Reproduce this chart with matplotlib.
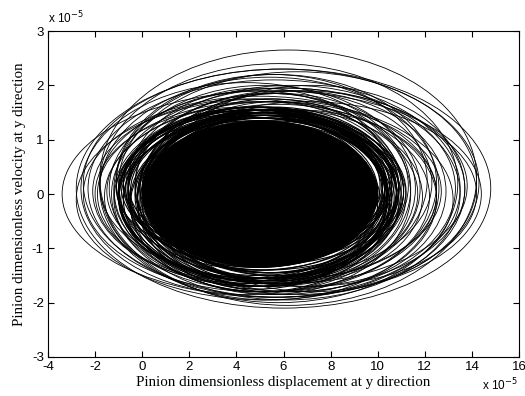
import matplotlib
matplotlib.use("Agg")
import matplotlib.pyplot as plt
from matplotlib.patches import Ellipse

plt.rcParams['font.family'] = ['Liberation Serif', 'DejaVu Serif']

# Orbit loops (units of 1e-5): centre x, centre y, semi-axis x, semi-axis y
outer_cx = [5.5, 6.0, 6.2, 5.8, 5.6, 5.2, 5.9, 6.1, 5.4, 5.0, 6.3, 5.7, 5.3, 6.0, 5.5, 4.9, 6.4, 5.2, 5.8, 5.6,
            4.8, 6.0, 5.4, 5.1, 5.9, 4.7, 5.5, 6.2, 5.0, 5.3, 4.6, 5.7, 6.5, 4.5, 6.8, 7.0, 4.3, 7.2, 4.4, 6.6]
outer_cy = [0.0, 0.1, 0.3, 0.2, 0.1, -0.1, 0.2, 0.0, 0.1, 0.0, 0.1, 0.2, -0.05, 0.15, 0.25, 0.0, 0.05, 0.1, -0.1, 0.05,
            0.1, 0.2, 0.0, -0.05, 0.1, 0.0, 0.15, -0.05, 0.2, 0.0, -0.1, 0.05, 0.0, 0.05, 0.1, 0.0, 0.0, 0.1, 0.1, 0.2]
outer_a = [8.9, 8.8, 8.0, 7.6, 7.9, 8.0, 8.4, 7.4, 7.2, 7.5, 7.0, 6.8, 6.9, 7.8, 6.6, 6.8, 6.5, 6.4, 6.7, 7.1,
           6.2, 6.3, 6.0, 6.1, 5.9, 5.9, 5.8, 5.7, 5.6, 5.5, 5.8, 5.4, 6.0, 6.6, 6.9, 7.2, 6.3, 6.5, 7.0, 7.6]
outer_b = [1.9, 2.2, 2.35, 2.2, 2.0, 1.85, 2.1, 1.95, 2.05, 1.8, 1.9, 2.0, 1.75, 1.8, 1.95, 1.7, 1.85, 1.9, 1.75, 1.65,
           1.8, 1.7, 1.85, 1.65, 1.75, 1.6, 1.7, 1.6, 1.75, 1.55, 1.6, 1.65, 1.55, 1.7, 1.8, 1.7, 1.6, 1.9, 1.95, 2.05]

core_cx = [4.6, 4.8, 5.0, 5.2, 5.4, 5.6, 4.7, 4.9, 5.1, 5.3, 5.5, 4.8, 5.0, 5.2, 5.4, 4.6, 5.6, 5.0, 5.3, 4.9,
           5.1, 5.5, 4.7, 5.2, 5.4, 4.9, 5.3, 5.0, 5.6, 4.8, 5.1, 5.4, 4.7, 5.2, 5.0, 5.5, 4.9, 5.3, 5.1, 4.8]
core_cy = [0.0, 0.1, -0.1, 0.15, 0.05, -0.05, 0.2, -0.15, 0.1, 0.0, 0.15, -0.1, 0.05, -0.05, 0.2, 0.1, 0.0, -0.2, 0.1, 0.05,
           -0.1, 0.05, 0.15, -0.15, 0.0, 0.1, -0.05, 0.2, 0.05, -0.1, 0.15, -0.15, 0.0, 0.1, -0.05, 0.1, 0.0, 0.05, -0.1, 0.15]
core_a = [5.6, 5.4, 5.5, 5.3, 5.7, 5.2, 5.5, 5.1, 5.8, 5.0, 5.4, 5.6, 5.0, 5.5, 5.3, 5.7, 5.2, 5.5, 5.1, 5.4,
          5.0, 5.3, 5.6, 5.2, 5.4, 5.9, 5.1, 5.6, 5.3, 5.8, 5.0, 5.5, 5.7, 5.2, 6.0, 5.4, 5.5, 5.9, 5.3, 5.6]
core_b = [1.55, 1.45, 1.5, 1.4, 1.35, 1.55, 1.35, 1.6, 1.3, 1.45, 1.4, 1.55, 1.35, 1.5, 1.3, 1.3, 1.45, 1.6, 1.4, 1.4,
          1.3, 1.5, 1.35, 1.55, 1.45, 1.5, 1.6, 1.4, 1.55, 1.45, 1.35, 1.5, 1.6, 1.4, 1.55, 1.65, 1.5, 1.45, 1.6, 1.4]

fill_cx, fill_cy, fill_a, fill_b = 5.0, 0.0, 5.0, 1.35

x_ticks = [-4, -2, 0, 2, 4, 6, 8, 10, 12, 14, 16]
y_ticks = [-3, -2, -1, 0, 1, 2, 3]

fig = plt.figure(figsize=(5.25, 3.96), dpi=100)
ax = fig.add_axes([0.0914, 0.0985, 0.8972, 0.8232])

ax.add_patch(Ellipse((fill_cx, fill_cy), 2 * fill_a, 2 * fill_b, facecolor='black', edgecolor='black', lw=0.6))
for cx, cy, a, b in zip(core_cx, core_cy, core_a, core_b):
    ax.add_patch(Ellipse((cx, cy), 2 * a, 2 * b, fill=False, edgecolor='black', lw=0.8))
for cx, cy, a, b in zip(outer_cx, outer_cy, outer_a, outer_b):
    ax.add_patch(Ellipse((cx, cy), 2 * a, 2 * b, fill=False, edgecolor='black', lw=0.6))

ax.set_xlim(-4, 16)
ax.set_ylim(-3, 3)
ax.set_xticks(x_ticks)
ax.set_yticks(y_ticks)
ax.set_xticklabels([str(v) for v in x_ticks], family=['Liberation Sans', 'DejaVu Sans'])
ax.set_yticklabels([str(v) for v in y_ticks], family=['Liberation Sans', 'DejaVu Sans'])
ax.tick_params(direction='in', top=True, right=True, length=4, width=0.8, labelsize=9.5, pad=3)
for s in ax.spines.values():
    s.set_linewidth(0.8)

ax.set_xlabel('Pinion dimensionless displacement at y direction', fontsize=10.8, labelpad=2)
ax.set_ylabel('Pinion dimensionless velocity at y direction', fontsize=10.8, labelpad=4)
ax.text(0.0, 1.015, r'x 10$^{-5}$', transform=ax.transAxes, fontsize=8.5, ha='left', va='bottom',
        family=['Liberation Sans', 'DejaVu Sans'])
ax.text(0.998, -0.06, r'x 10$^{-5}$', transform=ax.transAxes, fontsize=8.5, ha='right', va='top',
        family=['Liberation Sans', 'DejaVu Sans'])

fig.savefig('out.png', dpi=100)
